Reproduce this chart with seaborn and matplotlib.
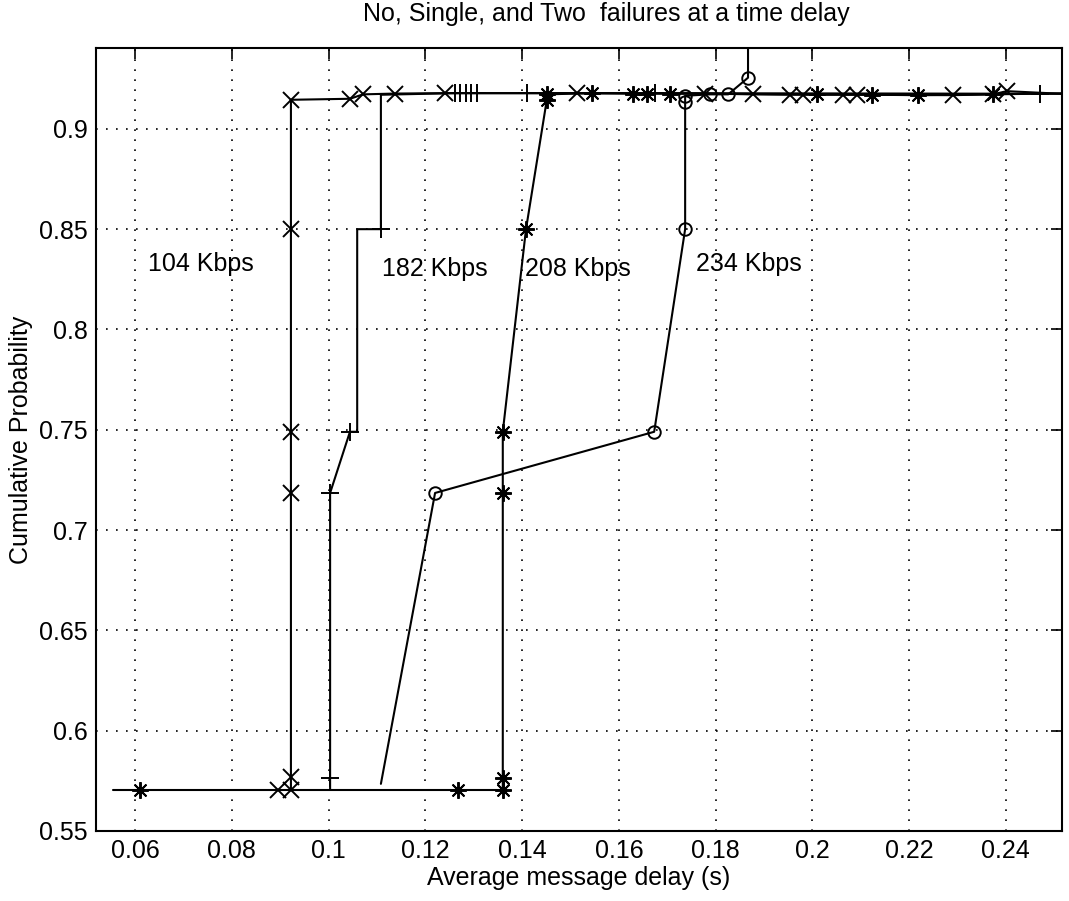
import matplotlib
matplotlib.use("Agg")
import matplotlib.pyplot as plt
import seaborn as sns

# ---------------- data ----------------
# common "no failure" level line
base_x = [0.0555, 0.0610, 0.0896, 0.0922, 0.1003, 0.1108, 0.1268, 0.1360]
base_y = [0.5705, 0.5705, 0.5705, 0.5705, 0.5705, 0.5705, 0.5705, 0.5705]

# 104 Kbps curve (x markers)
x104 = [0.0922, 0.0922, 0.0922, 0.0922, 0.0922, 0.0922, 0.1044, 0.1071, 0.1137,
        0.1241, 0.1513, 0.1778, 0.1877, 0.1954, 0.1980, 0.2063, 0.2092, 0.2290,
        0.2373, 0.2402, 0.2600]
y104 = [0.5705, 0.5770, 0.7185, 0.7490, 0.8500, 0.9145, 0.9150, 0.9172, 0.9176,
        0.9178, 0.9178, 0.9176, 0.9172, 0.9170, 0.9170, 0.9170, 0.9170, 0.9168,
        0.9172, 0.9188, 0.9165]

# 182 Kbps curve (+ markers)
x182 = [0.1003, 0.1003, 0.1003, 0.1044, 0.1059, 0.1059, 0.1108, 0.1108, 0.1261,
        0.1272, 0.1283, 0.1295, 0.1306, 0.1410, 0.1675, 0.2470, 0.2600]
y182 = [0.5705, 0.5765, 0.7185, 0.7490, 0.7490, 0.8500, 0.8500, 0.9170, 0.9178,
        0.9178, 0.9178, 0.9178, 0.9178, 0.9178, 0.9178, 0.9175, 0.9175]

# 208 Kbps curve (* markers)
x208 = [0.1360, 0.1360, 0.1360, 0.1360, 0.1408, 0.1451, 0.1451, 0.1544, 0.1629,
        0.1658, 0.1706, 0.2009, 0.2123, 0.2218, 0.2373, 0.2600]
y208 = [0.5705, 0.5765, 0.7185, 0.7490, 0.8500, 0.9145, 0.9172, 0.9178, 0.9176,
        0.9176, 0.9176, 0.9172, 0.9170, 0.9168, 0.9172, 0.9180]

# 234 Kbps curve (o markers)
x234 = [0.1108, 0.1220, 0.1673, 0.1737, 0.1737, 0.1737, 0.1788, 0.1826, 0.1867, 0.1867]
y234 = [0.5735, 0.7185, 0.7490, 0.8500, 0.9135, 0.9165, 0.9172, 0.9172, 0.9255, 0.9600]

# extra markers on the base line
base_star_x = [0.0610, 0.1268, 0.1360]
base_star_y = [0.5705, 0.5705, 0.5705]
base_x_mark_x = [0.0896, 0.0922]
base_x_mark_y = [0.5705, 0.5705]

labels = ["104 Kbps", "182 Kbps", "208 Kbps", "234 Kbps"]
label_x = [0.0627, 0.1110, 0.1405, 0.1760]
label_y = [0.8325, 0.8300, 0.8300, 0.8325]

title = "No, Single, and Two  failures at a time delay"
xlabel = "Average message delay (s)"
ylabel = "Cumulative Probability"
xticks = [0.06, 0.08, 0.10, 0.12, 0.14, 0.16, 0.18, 0.20, 0.22, 0.24]
xtick_labels = ["0.06", "0.08", "0.1", "0.12", "0.14", "0.16", "0.18", "0.2", "0.22", "0.24"]
yticks = [0.55, 0.60, 0.65, 0.70, 0.75, 0.80, 0.85, 0.90]
ytick_labels = ["0.55", "0.6", "0.65", "0.7", "0.75", "0.8", "0.85", "0.9"]

# ---------------- style ----------------
sns.set_theme(style="white")
plt.rcParams["font.family"] = ["Liberation Sans", "DejaVu Sans"]
FS = 18

fig = plt.figure(figsize=(10.69, 9.01), dpi=100)
ax = fig.add_axes([0.0898, 0.0777, 0.9036, 0.8690])

asterisk = (8, 2, 0)
common = dict(color="black", estimator=None, sort=False, legend=False, ax=ax,
              linewidth=1.5, markeredgecolor="black", markeredgewidth=1.4)

sns.lineplot(x=base_x, y=base_y, **common)
sns.lineplot(x=x104, y=y104, marker="x", markersize=12,
             markevery=list(range(1, 20)), **common)
sns.lineplot(x=x182, y=y182, marker="+", markersize=13,
             markevery=[1, 2, 3, 6, 8, 9, 10, 11, 12, 13, 14, 15], **common)
sns.lineplot(x=x208, y=y208, marker=asterisk, markersize=12,
             markevery=list(range(1, 15)), **common)
sns.lineplot(x=x234, y=y234, marker="o", markersize=9, markerfacecolor="none",
             markevery=list(range(1, 9)), **common)

# markers sitting on the common base line
sns.lineplot(x=base_star_x, y=base_star_y, linestyle="none", marker=asterisk,
             markersize=12, **common)
sns.lineplot(x=base_x_mark_x, y=base_x_mark_y, linestyle="none", marker="x",
             markersize=12, **common)

for t, lx, ly in zip(labels, label_x, label_y):
    ax.text(lx, ly, t, fontsize=FS, color="black", va="center", ha="left")

ax.set_xlim(0.0519, 0.2516)
ax.set_ylim(0.55, 0.9403)
ax.set_xticks(xticks)
ax.set_xticklabels(xtick_labels)
ax.set_yticks(yticks)
ax.set_yticklabels(ytick_labels)
ax.tick_params(axis="both", which="both", direction="in", length=8, width=1.2,
               top=True, right=True, labelsize=FS, colors="black", pad=6)
ax.grid(True, linestyle=(0, (1, 5)), color="black", linewidth=1.2)
for s in ax.spines.values():
    s.set_visible(True)
    s.set_color("black")
    s.set_linewidth(1.5)

ax.set_xlabel(xlabel, fontsize=FS, color="black", labelpad=2)
ax.set_ylabel(ylabel, fontsize=FS, color="black", labelpad=4)
fig.text(606 / 1069, 1 - 14 / 901, title, fontsize=FS, ha="center", va="center",
         color="black")

fig.savefig("out.png", dpi=100, facecolor="white")
